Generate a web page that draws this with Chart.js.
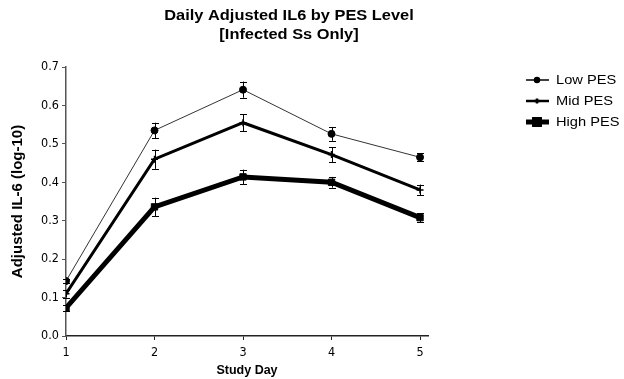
<!DOCTYPE html>
<html><head><meta charset="utf-8">
<script src="https://cdn.jsdelivr.net/npm/chart.js@4.4.0/dist/chart.umd.min.js"></script>
<style>html,body{margin:0;padding:0;background:#fff}#wrap{width:624px;height:379px}</style>
</head><body><div id="wrap"><canvas id="c" width="624" height="379"></canvas></div>
<script>
const days = [1, 2, 3, 4, 5];
const seriesNames = ['Low PES', 'Mid PES', 'High PES'];
const lowPES = [0.143, 0.535, 0.641, 0.526, 0.465];
const midPES = [0.110, 0.460, 0.555, 0.472, 0.380];
const highPES = [0.073, 0.336, 0.414, 0.400, 0.308];
const lowErr = [0.006, 0.020, 0.021, 0.018, 0.010];
const midErr = [0.010, 0.025, 0.022, 0.019, 0.014];
const highErr = [0.007, 0.024, 0.019, 0.014, 0.012];
const yTicks = [0, 0.1, 0.2, 0.3, 0.4, 0.5, 0.6, 0.7];
const titleLines = ['Daily Adjusted IL6 by PES Level', '[Infected Ss Only]'];

const FONT = '"Liberation Sans", Arial, sans-serif';
const NARROW = '"Liberation Sans Narrow", "DejaVu Sans Condensed", "Liberation Sans", sans-serif';
const styles = [
  {w: 1, color: '#333', point: 'circle', r: 3.5, lw: 1.5, lr: 2.5},
  {w: 3, color: '#000', point: 'cross', r: 3.5, lw: 2.5, lr: 2.5},
  {w: 5, color: '#000', point: 'rect', r: 4.5, lw: 5, lr: 3.5}
];
const values = [lowPES, midPES, highPES];
const errs = [lowErr, midErr, highErr];

const datasets = values.map((v, i) => ({
  label: seriesNames[i],
  data: days.map((d, j) => ({x: d, y: v[j]})),
  borderColor: styles[i].color,
  backgroundColor: '#000',
  borderWidth: styles[i].w,
  pointStyle: styles[i].point,
  pointRadius: styles[i].r,
  pointBorderWidth: styles[i].point === 'cross' ? 1.5 : 1,
  pointBorderColor: '#000',
  pointBackgroundColor: '#000',
  tension: 0,
  errors: errs[i]
}));

const errorBars = {
  id: 'errorBars',
  afterDatasetsDraw(chart) {
    const ctx = chart.ctx, xs = chart.scales.x, ys = chart.scales.y;
    ctx.save();
    ctx.strokeStyle = '#000';
    ctx.lineWidth = 1;
    chart.data.datasets.forEach(ds => {
      ds.data.forEach((p, j) => {
        const e = ds.errors[j];
        const x = Math.round(xs.getPixelForValue(p.x)) + 0.5;
        const y1 = ys.getPixelForValue(p.y + e), y2 = ys.getPixelForValue(p.y - e);
        ctx.beginPath();
        ctx.moveTo(x, y1); ctx.lineTo(x, y2);
        ctx.moveTo(x - 3.5, Math.round(y1) + 0.5); ctx.lineTo(x + 3.5, Math.round(y1) + 0.5);
        ctx.moveTo(x - 3.5, Math.round(y2) + 0.5); ctx.lineTo(x + 3.5, Math.round(y2) + 0.5);
        ctx.stroke();
      });
    });
    ctx.restore();
  }
};

function stretchedText(ctx, text, x, y, sx) {
  ctx.save();
  ctx.translate(x, y);
  ctx.scale(sx, 1);
  ctx.fillText(text, 0, 0);
  ctx.restore();
}

const extras = {
  id: 'extras',
  afterDraw(chart) {
    const ctx = chart.ctx;
    ctx.save();
    ctx.fillStyle = '#000';
    ctx.font = 'bold 14px ' + FONT;
    ctx.textAlign = 'center';
    ctx.textBaseline = 'middle';
    stretchedText(ctx, titleLines[0], 289, 16, 1.17);
    stretchedText(ctx, titleLines[1], 289, 35, 1.17);
    // legend
    ctx.font = '12px ' + FONT;
    ctx.textAlign = 'left';
    const ly = [80, 101, 122];
    chart.data.datasets.forEach((ds, i) => {
      const y = ly[i];
      ctx.strokeStyle = '#000';
      ctx.lineWidth = styles[i].lw;
      ctx.beginPath(); ctx.moveTo(526, y); ctx.lineTo(549, y); ctx.stroke();
      ctx.fillStyle = '#000';
      Chart.helpers.drawPoint(ctx, {pointStyle: styles[i].point, radius: styles[i].lr, borderWidth: 1.5}, 537, y);
      ctx.fillStyle = '#000';
      stretchedText(ctx, ds.label, 556, y + 1, 1.22);
    });
    ctx.restore();
  }
};

new Chart(document.getElementById('c'), {
  type: 'line',
  data: {datasets},
  options: {
    responsive: false,
    animation: false,
    events: [],
    layout: {padding: {left: 0, right: 196, top: 67, bottom: 0}},
    plugins: {legend: {display: false}, title: {display: false}, tooltip: {enabled: false}},
    scales: {
      x: {
        type: 'linear', min: 1, max: 5.09,
        afterBuildTicks(s) { s.ticks = days.map(v => ({value: v})); },
        afterFit(s) { s.height = 43; },
        border: {color: '#222', width: 1.5},
        grid: {drawOnChartArea: false, tickLength: 4, color: '#222'},
        ticks: {color: '#000', font: {family: NARROW, size: 12.5}, padding: 5, maxRotation: 0},
        title: {display: true, text: 'Study Day', color: '#000', font: {family: FONT, size: 12.5, weight: 'bold'}, padding: {top: 0, bottom: 1}}
      },
      y: {
        min: 0, max: 0.7,
        afterBuildTicks(s) { s.ticks = yTicks.map(v => ({value: v})); },
        afterFit(s) { s.width = 66; },
        border: {color: '#555', width: 1.5},
        grid: {drawOnChartArea: false, tickLength: 4, color: '#555'},
        ticks: {color: '#000', font: {family: NARROW, size: 12.5}, padding: 3, callback: v => v.toFixed(1)},
        title: {display: true, text: 'Adjusted IL-6 (log-10)', color: '#000', font: {family: FONT, size: 15, weight: 'bold'}, padding: {top: 9, bottom: 0}}
      }
    }
  },
  plugins: [errorBars, extras]
});
</script></body></html>
